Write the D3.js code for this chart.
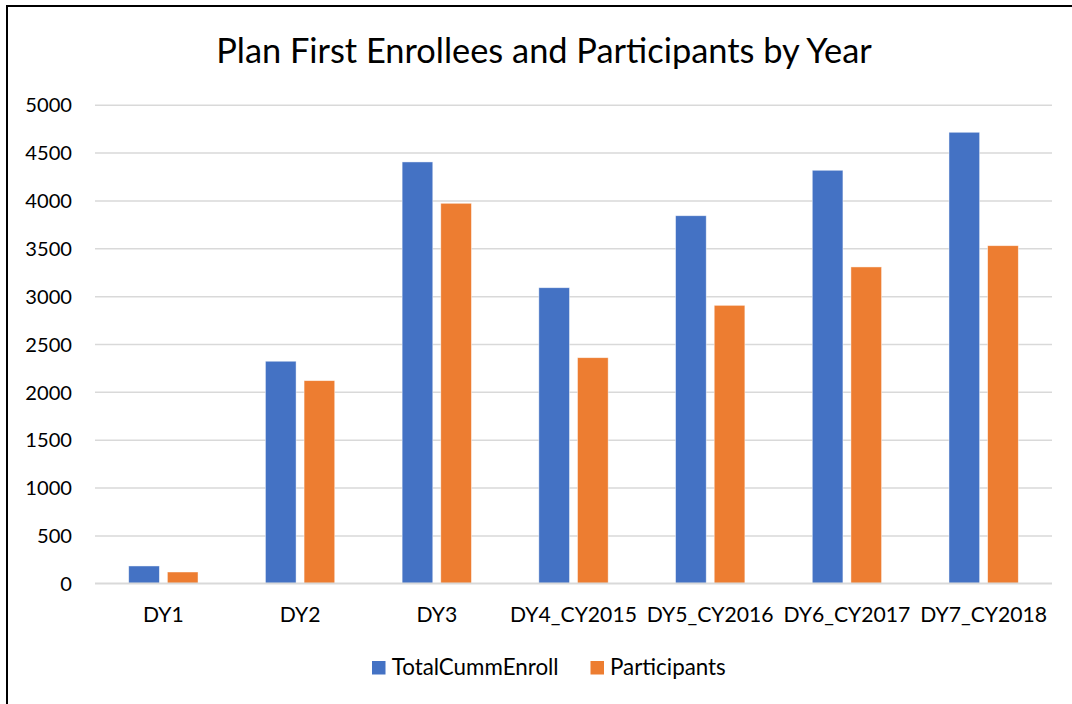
<!DOCTYPE html>
<html>
<head>
<meta charset="utf-8">
<script src="https://cdn.jsdelivr.net/npm/d3@7"></script>
<style>
  html, body { margin: 0; padding: 0; background: #fff; }
  svg { display: block; }
  text { font-family: Lato, "Noto Sans", sans-serif; fill: #000; }
</style>
</head>
<body>
<svg id="chart" width="1072" height="704"></svg>
<script>
const categories = ["DY1", "DY2", "DY3", "DY4_CY2015", "DY5_CY2016", "DY6_CY2017", "DY7_CY2018"];
const seriesNames = ["TotalCummEnroll", "Participants"];
const totalCummEnroll = [181, 2320, 4402, 3088, 3840, 4315, 4712];
const participants = [118, 2117, 3970, 2357, 2904, 3305, 3527];
const yTicks = [0, 500, 1000, 1500, 2000, 2500, 3000, 3500, 4000, 4500, 5000];
const titleText = "Plan First Enrollees and Participants by Year";

(function () {
const colors = ["#4472C4", "#ED7D31"];
const svg = d3.select("#chart");

function fitText(sel, targetWidth, startSize) {
  sel.style("font-size", startSize + "px");
  const w = sel.node().getComputedTextLength();
  const s = startSize * targetWidth / w;
  sel.style("font-size", s + "px");
  return s;
}

// border
svg.append("line").attr("x1", 6).attr("x2", 1072).attr("y1", 6).attr("y2", 6)
  .attr("stroke", "#000").attr("stroke-width", 2);
svg.append("line").attr("x1", 7).attr("x2", 7).attr("y1", 5).attr("y2", 704)
  .attr("stroke", "#000").attr("stroke-width", 2);

const pLeft = 95, pRight = 1052, pTop = 104.7, pBottom = 583.3;

const x0 = d3.scaleBand().domain(categories).range([pLeft, pRight])
  .paddingInner(0.493).paddingOuter(0.2465);
const x1 = d3.scaleBand().domain(seriesNames).range([0, x0.bandwidth()]).paddingInner(0.207);
const y = d3.scaleLinear().domain([0, 5000]).range([pBottom, pTop]);

// gridlines
const yAxis = d3.axisLeft(y).tickValues(yTicks).tickFormat(d3.format("d"))
  .tickSize(-(pRight - pLeft)).tickPadding(23);
const gY = svg.append("g").attr("transform", `translate(${pLeft},0)`).call(yAxis);
gY.select(".domain").remove();
gY.selectAll(".tick line").attr("stroke", "#d9d9d9").attr("stroke-width", 1.5);
gY.selectAll(".tick text").attr("font-family", null).style("fill", "#000");
const t5000 = gY.selectAll(".tick text").filter(d => d === 5000);
const tickSize = fitText(t5000, 46.7, 19);
gY.selectAll(".tick text").style("font-size", tickSize + "px").attr("dy", "0.36em");

// bars
const data = categories.map((c, i) => ({ cat: c, vals: [totalCummEnroll[i], participants[i]] }));
const groups = svg.append("g").selectAll("g").data(data).join("g")
  .attr("transform", d => `translate(${x0(d.cat)},0)`);
groups.selectAll("rect").data(d => d.vals.map((v, j) => ({ name: seriesNames[j], v, j })))
  .join("rect")
  .attr("x", d => x1(d.name))
  .attr("width", x1.bandwidth())
  .attr("y", d => y(d.v))
  .attr("height", d => y(0) - y(d.v))
  .attr("fill", d => colors[d.j])
  .attr("stroke", "#fff").attr("stroke-width", 0.75).attr("stroke-opacity", 0.6);

// x axis
const xAxis = d3.axisBottom(x0).tickSize(0).tickPadding(0);
const gX = svg.append("g").attr("transform", `translate(0,${pBottom})`).call(xAxis);
gX.select(".domain").attr("stroke", "#d9d9d9").attr("stroke-width", 1.5)
  .attr("d", `M${pLeft},0H${pRight}`);
gX.selectAll(".tick text").attr("font-family", null).style("fill", "#000").attr("y", 39).attr("dy", 0);
const catLabel = gX.selectAll(".tick text").filter(d => d === "DY4_CY2015");
const catSize = fitText(catLabel, 127, 19);
gX.selectAll(".tick text").style("font-size", catSize + "px");

// title
const title = svg.append("text").attr("x", 544).attr("y", 63).attr("text-anchor", "middle").text(titleText);
fitText(title, 656, 28);

// legend
const legend = svg.append("g");
const lt1 = legend.append("text").attr("x", 391.7).attr("y", 675).text(seriesNames[0]);
const legSize = fitText(lt1, 167, 19);
legend.append("text").attr("x", 610).attr("y", 675).style("font-size", legSize + "px").text(seriesNames[1]);
legend.selectAll("rect").data(seriesNames).join("rect")
  .attr("x", (d, i) => i === 0 ? 372 : 590.5)
  .attr("y", 661)
  .attr("width", 13.5).attr("height", 13.5)
  .attr("fill", (d, i) => colors[i]);
})();
</script>
</body>
</html>
